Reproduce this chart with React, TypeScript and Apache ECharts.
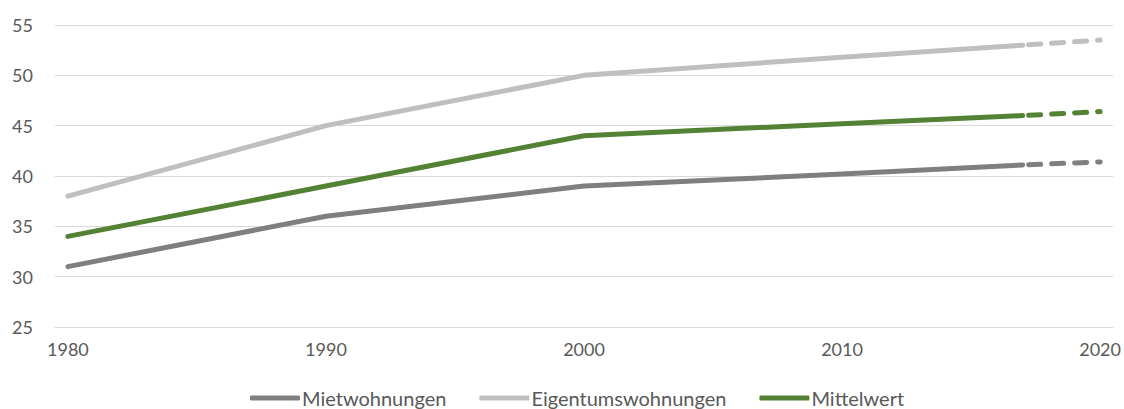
import React, { useEffect, useRef } from "react";
import * as echarts from "echarts";

const years: string[] = Array.from({ length: 41 }, (_, i) => String(1980 + i));
const solidYears = [1980, 1990, 2000, 2010, 2017];
const dashYears = [2017, 2020];

const mietSolid = [31, 36, 39, 40.2, 41.1];
const mietDash = [41.1, 41.4];
const eigenSolid = [38, 45, 50, 51.8, 53.0];
const eigenDash = [53.0, 53.5];
const mittelSolid = [34, 39, 44, 45.2, 46.0];
const mittelDash = [46.0, 46.4];

const yTicks = { min: 25, max: 55, interval: 5 };

const toSeriesData = (ys: number[], vals: number[]) => {
  const arr: (number | null)[] = years.map(() => null);
  ys.forEach((y, i) => {
    arr[y - 1980] = vals[i];
  });
  return arr;
};

const COLORS = { miet: "#7f7f7f", eigen: "#bfbfbf", mittel: "#548235" };
const FONT = "Lato";

export default function App() {
  const ref = useRef<HTMLDivElement>(null);
  useEffect(() => {
    document.body.style.margin = "0";
    const chart = echarts.init(ref.current!, null, { renderer: "svg" });
    const solid = (name: string, color: string, ys: number[], vals: number[]) => ({
      name,
      type: "line",
      data: toSeriesData(ys, vals),
      connectNulls: true,
      showSymbol: false,
      symbol: "none",
      lineStyle: { color, width: 5, cap: "round", join: "round" },
      itemStyle: { color },
      z: 3,
    });
    const dashed = (name: string, color: string, ys: number[], vals: number[]) => ({
      name: name + " (Prognose)",
      type: "line",
      data: toSeriesData(ys, vals),
      connectNulls: true,
      showSymbol: false,
      symbol: "none",
      lineStyle: { color, width: 5, type: [12, 11], dashOffset: -6, cap: "round" },
      itemStyle: { color },
      z: 3,
    });
    chart.setOption({
      animation: false,
      textStyle: { fontFamily: FONT },
      grid: { left: 55, right: 11, top: 25, bottom: 82, containLabel: false },
      legend: {
        data: ["Mietwohnungen", "Eigentumswohnungen", "Mittelwert"],
        top: 383,
        left: 245,
        icon: "roundRect",
        itemWidth: 50,
        itemHeight: 5,
        itemGap: 33,
        textStyle: { color: "#595959", fontSize: 20, fontFamily: FONT, padding: [0, 0, 0, -3] },
      },
      xAxis: {
        type: "category",
        data: years,
        boundaryGap: true,
        axisLine: { show: true, lineStyle: { color: "#d9d9d9", width: 1 } },
        axisTick: { show: false },
        axisLabel: { interval: 9, color: "#595959", fontSize: 18, fontFamily: FONT, margin: 13 },
        splitLine: { show: false },
      },
      yAxis: {
        type: "value",
        min: yTicks.min,
        max: yTicks.max,
        interval: yTicks.interval,
        axisLine: { show: false },
        axisTick: { show: false },
        axisLabel: { color: "#595959", fontSize: 18, fontFamily: FONT, margin: 22 },
        splitLine: { lineStyle: { color: "#d9d9d9", width: 1 } },
      },
      series: [
        solid("Mietwohnungen", COLORS.miet, solidYears, mietSolid),
        solid("Eigentumswohnungen", COLORS.eigen, solidYears, eigenSolid),
        solid("Mittelwert", COLORS.mittel, solidYears, mittelSolid),
        dashed("Mietwohnungen", COLORS.miet, dashYears, mietDash),
        dashed("Eigentumswohnungen", COLORS.eigen, dashYears, eigenDash),
        dashed("Mittelwert", COLORS.mittel, dashYears, mittelDash),
      ],
    });
    return () => chart.dispose();
  }, []);
  return <div ref={ref} style={{ width: 1124, height: 409 }} />;
}
